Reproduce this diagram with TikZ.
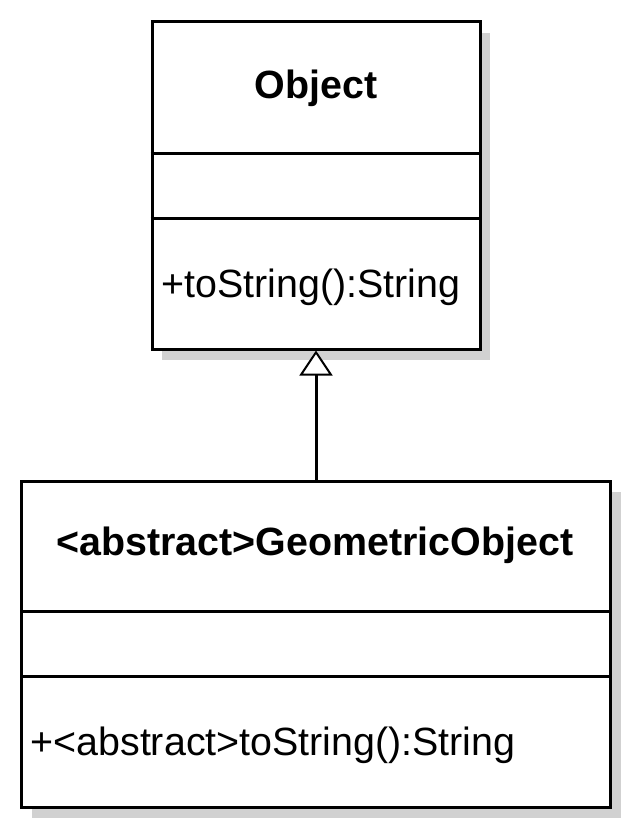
\documentclass[tikz,border=0pt]{standalone}
\usepackage{fontspec}
\setmainfont{Liberation Sans}
\usepackage{tikz}
\usetikzlibrary{arrows.meta, positioning, shadows}

\begin{document}
\begin{tikzpicture}[
        x=0.5pt, y=-0.5pt,
        umlclass/.style={rectangle, draw=black, fill=white, line width=1.5pt,
                         inner sep=0pt,
                         drop shadow={shadow xshift=5pt, shadow yshift=-5.5pt,
                                      fill=black!18, opacity=1}},
        classname/.style={font=\fontsize{19.7}{24}\selectfont\bfseries, inner sep=0pt},
        member/.style={font=\fontsize{19.7}{24}\selectfont, inner sep=0pt, anchor=west},
        divider/.style={line width=1.5pt},
        >={Triangle[open, fill=white, length=12.5pt, width=16.5pt, line width=1pt]},
        line width=1.5pt
      ]
        \useasboundingbox (0,0) rectangle (628,829);
        % Classes
        \node[umlclass, minimum width=164pt, minimum height=163.5pt] (obj) at (316,185.5) {};
        \node[umlclass, minimum width=294.5pt, minimum height=163pt] (geo) at (316,644) {};
        % Compartments
        \draw[divider] (obj.west |- 0,153) -- (obj.east |- 0,153);
        \draw[divider] (obj.west |- 0,218) -- (obj.east |- 0,218);
        \draw[divider] (geo.west |- 0,611) -- (geo.east |- 0,611);
        \draw[divider] (geo.west |- 0,676) -- (geo.east |- 0,676);
        % Names and operations
        \node[classname] (objname) at (316,88) {Object};
        \node[member] (objop) at (160,287) {+toString():String};
        \node[classname] (geoname) at (315,545) {<abstract>GeometricObject};
        \node[member] (geoop) at (29,745) {+<abstract>toString():String};
        % Generalization
        \draw[->] (geo.north) -- (obj.south);
      \end{tikzpicture}
\end{document}
